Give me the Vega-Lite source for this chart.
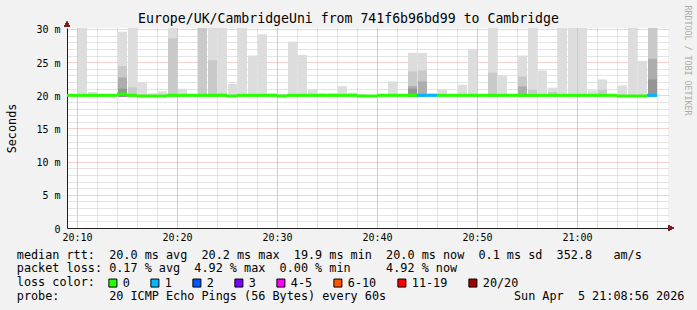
{
  "$schema": "https://vega.github.io/schema/vega-lite/v6.json",
  "width": 601,
  "height": 200,
  "autosize": {"type": "none"},
  "padding": {"left": 67, "top": 28, "right": 29, "bottom": 82},
  "background": "#f2f2f2",
  "config": {
    "view": {"fill": "#ffffff", "stroke": null},
    "font": "DejaVu Sans Mono",
    "axis": {"labelFont": "DejaVu Sans Mono", "titleFont": "DejaVu Sans Mono", "labelColor": "#000000", "titleColor": "#000000", "titleFontWeight": "normal"},
    "legend": {"labelFont": "DejaVu Sans Mono"}
  },
  "title": {
    "text": "Europe/UK/CambridgeUni from 741f6b96bd99 to Cambridge",
    "font": "DejaVu Sans Mono",
    "fontSize": 13.2,
    "fontWeight": "normal",
    "color": "#000000",
    "anchor": "middle",
    "frame": "group",
    "dx": -19,
    "dy": 36.5,
    "offset": 5,
    "baseline": "alphabetic"
  },
  "data": {
    "values": [
      {"t": "2026-04-05T20:09:00Z", "med": 20.0, "loss": "0", "s1": 20.2},
      {"t": "2026-04-05T20:10:00Z", "med": 20.0, "loss": "0", "s1": 31},
      {"t": "2026-04-05T20:11:00Z", "med": 20.0, "loss": "0", "s1": 20.5},
      {"t": "2026-04-05T20:12:00Z", "med": 20.0, "loss": "0", "s1": 20.2},
      {"t": "2026-04-05T20:13:00Z", "med": 20.0, "loss": "0", "s1": 20.2},
      {"t": "2026-04-05T20:14:00Z", "med": 20.2, "loss": "0", "s1": 29.6, "s2": 24.4, "s3": 22.7, "s4": 21.0},
      {"t": "2026-04-05T20:15:00Z", "med": 20.0, "loss": "0", "s1": 31, "s2": 21.2},
      {"t": "2026-04-05T20:16:00Z", "med": 19.9, "loss": "0", "s1": 22.0},
      {"t": "2026-04-05T20:17:00Z", "med": 19.9, "loss": "0", "s1": 20.3},
      {"t": "2026-04-05T20:18:00Z", "med": 19.9, "loss": "0", "s1": 20.6},
      {"t": "2026-04-05T20:19:00Z", "med": 20.0, "loss": "0", "s1": 31, "s2": 28.6},
      {"t": "2026-04-05T20:20:00Z", "med": 20.0, "loss": "0", "s1": 21.0},
      {"t": "2026-04-05T20:21:00Z", "med": 20.0, "loss": "0", "s1": 20.2},
      {"t": "2026-04-05T20:22:00Z", "med": 20.0, "loss": "0", "s1": 31, "s2": 31},
      {"t": "2026-04-05T20:23:00Z", "med": 20.0, "loss": "0", "s1": 31, "s2": 25.3},
      {"t": "2026-04-05T20:24:00Z", "med": 20.0, "loss": "0", "s1": 31, "s2": 20.3},
      {"t": "2026-04-05T20:25:00Z", "med": 19.9, "loss": "0", "s1": 21.7},
      {"t": "2026-04-05T20:26:00Z", "med": 20.0, "loss": "0", "s1": 31},
      {"t": "2026-04-05T20:27:00Z", "med": 20.0, "loss": "0", "s1": 26.0},
      {"t": "2026-04-05T20:28:00Z", "med": 20.0, "loss": "0", "s1": 29.2},
      {"t": "2026-04-05T20:29:00Z", "med": 20.0, "loss": "0", "s1": 20.3},
      {"t": "2026-04-05T20:30:00Z", "med": 19.9, "loss": "0", "s1": 20.2},
      {"t": "2026-04-05T20:31:00Z", "med": 20.0, "loss": "0", "s1": 28.1},
      {"t": "2026-04-05T20:32:00Z", "med": 20.0, "loss": "0", "s1": 26.1},
      {"t": "2026-04-05T20:33:00Z", "med": 20.0, "loss": "0", "s1": 20.9},
      {"t": "2026-04-05T20:34:00Z", "med": 20.0, "loss": "0", "s1": 20.3},
      {"t": "2026-04-05T20:35:00Z", "med": 20.0, "loss": "0", "s1": 20.3},
      {"t": "2026-04-05T20:36:00Z", "med": 20.0, "loss": "0", "s1": 21.4},
      {"t": "2026-04-05T20:37:00Z", "med": 20.0, "loss": "0", "s1": 20.4},
      {"t": "2026-04-05T20:38:00Z", "med": 19.9, "loss": "0", "s1": 20.2},
      {"t": "2026-04-05T20:39:00Z", "med": 19.9, "loss": "0"},
      {"t": "2026-04-05T20:40:00Z", "med": 20.0, "loss": "0"},
      {"t": "2026-04-05T20:41:00Z", "med": 20.0, "loss": "0", "s1": 22.1},
      {"t": "2026-04-05T20:42:00Z", "med": 20.0, "loss": "0"},
      {"t": "2026-04-05T20:43:00Z", "med": 20.0, "loss": "0", "s1": 26.4, "s2": 23.6, "s3": 21.4, "s4": 21.0},
      {"t": "2026-04-05T20:44:00Z", "med": 20.0, "loss": "1", "s1": 26.4, "s2": 23.75, "s3": 22.1},
      {"t": "2026-04-05T20:45:00Z", "med": 20.0, "loss": "1", "s1": 20.3},
      {"t": "2026-04-05T20:46:00Z", "med": 20.0, "loss": "0", "s1": 20.9},
      {"t": "2026-04-05T20:47:00Z", "med": 20.0, "loss": "0"},
      {"t": "2026-04-05T20:48:00Z", "med": 20.0, "loss": "0", "s1": 21.6},
      {"t": "2026-04-05T20:49:00Z", "med": 20.0, "loss": "0", "s1": 27.0},
      {"t": "2026-04-05T20:50:00Z", "med": 20.0, "loss": "0"},
      {"t": "2026-04-05T20:51:00Z", "med": 20.0, "loss": "0", "s1": 31, "s2": 23.4},
      {"t": "2026-04-05T20:52:00Z", "med": 20.0, "loss": "0", "s1": 23.0},
      {"t": "2026-04-05T20:53:00Z", "med": 20.0, "loss": "0"},
      {"t": "2026-04-05T20:54:00Z", "med": 20.0, "loss": "0", "s1": 26.0, "s2": 22.85, "s3": 21.35},
      {"t": "2026-04-05T20:55:00Z", "med": 20.0, "loss": "0", "s1": 31, "s2": 20.85},
      {"t": "2026-04-05T20:56:00Z", "med": 20.0, "loss": "0", "s1": 23.75},
      {"t": "2026-04-05T20:57:00Z", "med": 20.0, "loss": "0", "s1": 21.15, "s2": 20.5},
      {"t": "2026-04-05T20:58:00Z", "med": 20.0, "loss": "0", "s1": 31},
      {"t": "2026-04-05T20:59:00Z", "med": 20.0, "loss": "0", "s1": 31},
      {"t": "2026-04-05T21:00:00Z", "med": 20.0, "loss": "0", "s1": 31},
      {"t": "2026-04-05T21:01:00Z", "med": 20.0, "loss": "0", "s1": 20.75},
      {"t": "2026-04-05T21:02:00Z", "med": 20.0, "loss": "0", "s1": 22.4, "s2": 20.85},
      {"t": "2026-04-05T21:03:00Z", "med": 20.0, "loss": "0"},
      {"t": "2026-04-05T21:04:00Z", "med": 19.9, "loss": "0", "s1": 21.5},
      {"t": "2026-04-05T21:05:00Z", "med": 19.9, "loss": "0", "s1": 31},
      {"t": "2026-04-05T21:06:00Z", "med": 19.9, "loss": "0", "s1": 25.2},
      {"t": "2026-04-05T21:07:00Z", "med": 20.0, "loss": "1", "s1": 31, "s2": 31, "s3": 25.5, "s4": 22.4}
    ]
  },
  "layer": [
    {
      "mark": {"type": "bar", "color": "#dddddd", "clip": true},
      "encoding": {
        "x": {
          "field": "t", "type": "temporal", "timeUnit": "utcyearmonthdatehoursminutes",
          "scale": {"type": "utc", "domain": [1775419740000, 1775423346000], "nice": false},
          "axis": {"orient": "bottom", "values": [1775419800000, 1775419920000, 1775420040000, 1775420160000, 1775420280000, 1775420400000, 1775420520000, 1775420640000, 1775420760000, 1775420880000, 1775421000000, 1775421120000, 1775421240000, 1775421360000, 1775421480000, 1775421600000, 1775421720000, 1775421840000, 1775421960000, 1775422080000, 1775422200000, 1775422320000, 1775422440000, 1775422560000, 1775422680000, 1775422800000, 1775422920000, 1775423040000, 1775423160000, 1775423280000], "grid": true, "gridColor": "#c8c8c8", "gridDash": [1, 1], "gridWidth": 1, "labels": false, "ticks": false, "domain": false, "title": null}
        },
        "y": {
          "field": "s1", "type": "quantitative",
          "scale": {"domain": [0, 30.15], "nice": false, "zero": false},
          "axis": {"orient": "left", "values": [1,2,3,4,6,7,8,9,11,12,13,14,16,17,18,19,21,22,23,24,26,27,28,29], "grid": true, "gridColor": "#c8c8c8", "gridDash": [1, 1], "gridWidth": 1, "labels": false, "ticks": false, "domain": false, "title": null}
        },
        "y2": {"datum": 19.75}
      }
    },
    {
      "mark": {"type": "bar", "color": "#c9c9c9", "clip": true},
      "encoding": {
        "x": {"field": "t", "type": "temporal", "timeUnit": "utcyearmonthdatehoursminutes", "axis": null},
        "y": {
          "field": "s2", "type": "quantitative",
          "axis": {"orient": "right", "title": "RRDTOOL / TOBI OETIKER", "labels": false, "ticks": false, "domain": false, "grid": false, "titleAngle": 90, "titleAlign": "left", "titleBaseline": "alphabetic", "titleX": 16.5, "titleY": -23, "titleFontSize": 8.3, "titleColor": "#aaaaaa", "titleFont": "DejaVu Sans Mono"}
        },
        "y2": {"datum": 19.75}
      }
    },
    {
      "mark": {"type": "bar", "color": "#adadad", "clip": true},
      "encoding": {
        "x": {"field": "t", "type": "temporal", "timeUnit": "utcyearmonthdatehoursminutes", "axis": null},
        "y": {"field": "s3", "type": "quantitative", "axis": null},
        "y2": {"datum": 19.75}
      }
    },
    {
      "mark": {"type": "bar", "color": "#959595", "clip": true},
      "encoding": {
        "x": {"field": "t", "type": "temporal", "timeUnit": "utcyearmonthdatehoursminutes", "axis": null},
        "y": {"field": "s4", "type": "quantitative", "axis": null},
        "y2": {"datum": 19.75}
      }
    },
    {
      "mark": {"type": "tick", "thickness": 3, "size": 10, "opacity": 1},
      "encoding": {
        "x": {
          "field": "t", "type": "temporal", "timeUnit": "utcyearmonthdatehoursminutes", "bandPosition": 0.5,
          "axis": {
            "orient": "bottom", "values": [1775419800000, 1775420400000, 1775421000000, 1775421600000, 1775422200000, 1775422800000], "format": "%H:%M",
            "grid": true, "gridColor": "#f0a0a0", "gridDash": [1, 1], "gridWidth": 1,
            "ticks": false, "tickSize": 0, "domain": true, "domainColor": "#1f1f1f", "domainWidth": 1,
            "labelFontSize": 10, "labelPadding": 4.5, "labelFont": "DejaVu Sans Mono",
            "title": [
              "median rtt:\u00a0\u00a020.0 ms avg\u00a0\u00a020.2 ms max\u00a0\u00a019.9 ms min\u00a0\u00a020.0 ms now\u00a0\u00a00.1 ms sd\u00a0\u00a0352.8\u00a0\u00a0\u00a0am/s",
              "packet loss: 0.17 % avg\u00a0\u00a04.92 % max\u00a0\u00a00.00 % min\u00a0\u00a0\u00a0\u00a0\u00a04.92 % now",
              "loss color:",
              "probe:\u00a0\u00a0\u00a0\u00a0\u00a0\u00a0\u00a020 ICMP Echo Pings (56 Bytes) every 60s\u00a0\u00a0\u00a0\u00a0\u00a0\u00a0\u00a0\u00a0\u00a0\u00a0\u00a0\u00a0\u00a0\u00a0\u00a0\u00a0\u00a0\u00a0Sun Apr\u00a0\u00a05 21:08:56 2026"
            ],
            "titleFont": "DejaVu Sans Mono", "titleFontSize": 11.8, "titleFontWeight": "normal",
            "titleAlign": "left", "titleAnchor": "start", "titleBaseline": "alphabetic", "titleAngle": 0,
            "titleX": -50.7, "titleY": 30.3, "titleLineHeight": 13.6
          }
        },
        "y": {
          "field": "med", "type": "quantitative",
          "axis": {
            "orient": "left", "values": [0, 5, 10, 15, 20, 25, 30],
            "labelExpr": "datum.value == 0 ? '0\u00a0\u00a0' : datum.value + ' m'",
            "grid": true, "gridColor": "#f0a0a0", "gridDash": [1, 1], "gridWidth": 1,
            "ticks": false, "tickSize": 0, "domain": true, "domainColor": "#1f1f1f", "domainWidth": 1,
            "labelFontSize": 10, "labelPadding": 7, "labelOffset": 1, "labelFont": "DejaVu Sans Mono",
            "title": "Seconds", "titleFont": "DejaVu Sans Mono", "titleFontSize": 11.8, "titleFontWeight": "normal",
            "titleAngle": -90, "titleAlign": "center", "titleBaseline": "alphabetic", "titleX": -52, "titleY": 100
          }
        },
        "color": {
          "field": "loss", "type": "nominal",
          "scale": {"domain": ["0", "1", "2", "3", "4-5", "6-10", "11-19", "20/20"], "range": ["#26ff00", "#00b8ff", "#0059ff", "#7e00ff", "#ff00ff", "#ff5500", "#ff0000", "#a10000"]},
          "legend": {
            "orient": "none", "direction": "horizontal", "legendX": 40, "legendY": 249, "title": null,
            "symbolType": "square", "symbolSize": 64, "symbolStrokeColor": "#000000", "symbolStrokeWidth": 1, "symbolOpacity": 1,
            "labelFontSize": 11.8, "labelColor": "#000000", "labelOffset": 4, "columnPadding": 18
          }
        }
      }
    },
    {
      "mark": {"type": "point", "shape": "triangle-up", "filled": true, "size": 28, "color": "#7f1f1f", "opacity": 1, "clip": false},
      "encoding": {
        "x": {"datum": 1775419740000, "type": "temporal", "axis": null},
        "y": {"datum": 30.75, "type": "quantitative", "axis": null}
      }
    },
    {
      "mark": {"type": "point", "shape": "triangle-right", "filled": true, "size": 28, "color": "#7f1f1f", "opacity": 1, "clip": false},
      "encoding": {
        "x": {"datum": 1775423364000, "type": "temporal", "axis": null},
        "y": {"datum": 0, "type": "quantitative", "axis": null}
      }
    }
  ],
  "resolve": {"axis": {"x": "independent", "y": "independent"}}
}
